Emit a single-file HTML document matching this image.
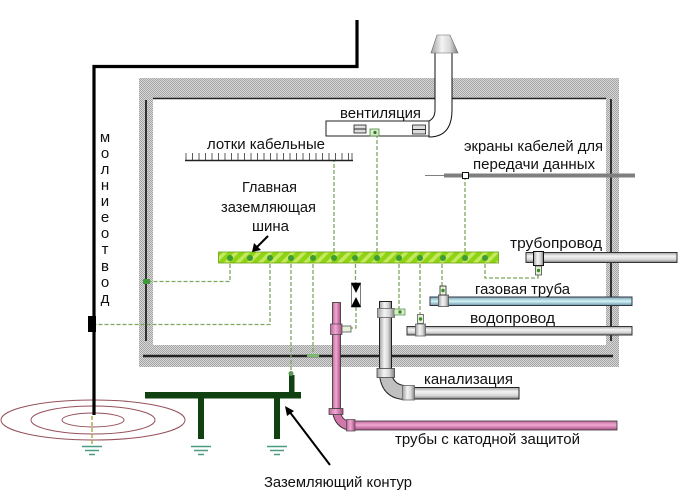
<!DOCTYPE html>
<html><head><meta charset="utf-8">
<style>
html,body{margin:0;padding:0;background:#fff}
svg{display:block}
text{font-family:"Liberation Sans",sans-serif;font-size:15px;fill:#111}
</style></head><body>
<svg xmlns="http://www.w3.org/2000/svg" width="700" height="503" viewBox="0 0 700 503">
<defs>
<pattern id="h" width="2" height="2" patternUnits="userSpaceOnUse"><rect width="2" height="2" fill="#d8d8d8"/><rect width="1" height="1" fill="#a4a4a4"/><rect x="1" y="1" width="1" height="1" fill="#a4a4a4"/></pattern>
<pattern id="g" width="8" height="8" patternUnits="userSpaceOnUse" patternTransform="rotate(45)"><rect width="8" height="8" fill="#8fd414"/><rect width="3.5" height="8" fill="#c4e860"/></pattern>
<linearGradient id="gr" x1="0" y1="0" x2="0" y2="1"><stop offset="0" stop-color="#a0a0a0"/><stop offset=".35" stop-color="#f4f4f4"/><stop offset=".7" stop-color="#d8d8d8"/><stop offset="1" stop-color="#808080"/></linearGradient>
<linearGradient id="grv" x1="0" y1="0" x2="1" y2="0"><stop offset="0" stop-color="#a0a0a0"/><stop offset=".4" stop-color="#f4f4f4"/><stop offset=".7" stop-color="#d8d8d8"/><stop offset="1" stop-color="#808080"/></linearGradient>
<linearGradient id="bl" x1="0" y1="0" x2="0" y2="1"><stop offset="0" stop-color="#7aa8b2"/><stop offset=".5" stop-color="#d2f2f8"/><stop offset="1" stop-color="#6d9aa5"/></linearGradient>
<linearGradient id="pk" x1="0" y1="0" x2="0" y2="1"><stop offset="0" stop-color="#c06a9c"/><stop offset=".45" stop-color="#f0a8d2"/><stop offset="1" stop-color="#a85085"/></linearGradient>
<linearGradient id="pkv" x1="0" y1="0" x2="1" y2="0"><stop offset="0" stop-color="#c06a9c"/><stop offset=".45" stop-color="#f0a8d2"/><stop offset="1" stop-color="#a85085"/></linearGradient>
</defs>

<!-- building walls -->
<g fill="#bebebe">
<rect x="139" y="78" width="480" height="21"/>
<rect x="139" y="345" width="480" height="22"/>
<rect x="139" y="78" width="14" height="289"/>
<rect x="606" y="78" width="13" height="289"/>
</g>
<g fill="url(#h)">
<rect x="139" y="78" width="480" height="21"/>
<rect x="139" y="345" width="480" height="22"/>
<rect x="139" y="78" width="14" height="289"/>
<rect x="606" y="78" width="13" height="289"/>
</g>
<path d="M153 98.500H606" stroke="#222" stroke-width="1.500"/>
<path d="M146 100V341M611 99V341" stroke="#222" stroke-width="1.800"/>
<path d="M143 356H613" stroke="#222" stroke-width="2.500"/>

<!-- ellipses -->
<g fill="none" stroke="#94505a" stroke-width="1">
<ellipse cx="93" cy="420" rx="92" ry="20"/><ellipse cx="93" cy="420" rx="62" ry="14"/><ellipse cx="93" cy="420" rx="31" ry="7"/>
</g>

<!-- lightning conductor -->
<path d="M357 20V66.500H94V415" fill="none" stroke="#000" stroke-width="3.200"/>
<rect x="88" y="316" width="8" height="16" fill="#000"/>

<!-- ground contour -->
<g fill="#0f4210">
<rect x="145" y="392" width="156" height="6.500"/>
<rect x="198" y="398" width="6" height="41"/>
<rect x="274" y="398" width="6" height="41"/>
<rect x="289" y="375" width="5.500" height="18"/>
</g>
<g stroke="#4f9a82" stroke-width="1.500">
<path d="M82 446.500h20M85 450.500h14M89 454.500h6"/>
<path d="M191 446.500h20M194 450.500h14M198 454.500h6"/>
<path d="M267 446.500h20M270 450.500h14M274 454.500h6"/>
</g>

<!-- dashed connectors -->
<g fill="none" stroke="#7da860" stroke-width="1.300" stroke-dasharray="4 2">
<path d="M230 258V281.500H147"/>
<path d="M270 258V324.500H96"/>
<path d="M291 258V375"/>
<path d="M313 258V355"/>
<path d="M355.500 258V283M356 307V328H346"/>
<path d="M399 258V312"/>
<path d="M420 258V319"/>
<path d="M442 258V288"/>
<path d="M485 258V278H538V272"/>
<path d="M334 252V161"/>
<path d="M377 252V135"/>
<path d="M465 252V179"/>
<path d="M92 416V445" stroke="#a8a030"/>
</g>
<path d="M143 281.500h7" stroke="#3f9a3a" stroke-width="5"/>
<path d="M307 355.500h12" stroke="#7ab870" stroke-width="3"/>
<circle cx="291" cy="373.500" r="2.500" fill="#5a9a50"/>

<!-- bus -->
<rect x="218.500" y="252" width="280" height="11" fill="url(#g)" stroke="#6aa012" stroke-width=".8"/>
<g fill="#3e9c32">
<circle cx="230" cy="258" r="3"/><circle cx="250" cy="258" r="3"/><circle cx="270" cy="258" r="3"/><circle cx="291" cy="258" r="3"/><circle cx="313" cy="258" r="3"/><circle cx="334" cy="258" r="3"/><circle cx="355" cy="258" r="3"/><circle cx="377" cy="258" r="3"/><circle cx="399" cy="258" r="3"/><circle cx="420" cy="258" r="3"/><circle cx="443" cy="258" r="3"/><circle cx="465" cy="258" r="3"/><circle cx="485" cy="258" r="3"/>
</g>

<!-- valve -->
<rect x="351.500" y="283" width="9" height="24" fill="#fff" stroke="#222" stroke-width=".6"/>
<path d="M351 283H361L356 293ZM351 307H361L356 297Z" fill="#000"/>

<!-- vent -->
<path d="M435 52H452V110Q452 137 429 137L429 121Q435 118 435 110Z" fill="#fff" stroke="#111" stroke-width="1"/>
<path d="M431 53H458L450 35H437Z" fill="url(#grv)" stroke="#666" stroke-width=".6"/>
<rect x="326" y="121" width="103" height="15" fill="#fff" stroke="#222" stroke-width="1"/>
<rect x="354" y="125" width="12" height="8" fill="#ddd" stroke="#222" stroke-width=".8"/>
<path d="M354 129h12" stroke="#222"/>
<rect x="412.500" y="125" width="13" height="9" fill="#ddd" stroke="#222" stroke-width=".8"/>
<path d="M412 129.500h13" stroke="#222"/>
<rect x="370" y="129" width="9" height="7" fill="#d8ecc8" stroke="#4a8a40" stroke-width=".8"/>
<circle cx="375" cy="132.500" r="1.600" fill="#2f7a2a"/>

<!-- cable tray -->
<path d="M185 160.500H353" stroke="#222" stroke-width="1.600"/>
<path d="M186 153V160M192.500 153V160M199 153V160M205.500 153V160M212 153V160M218.500 153V160M225 153V160M231.500 153V160M238 153V160M244.500 153V160M251 153V160M257.500 153V160M264 153V160M270.500 153V160M277 153V160M283.500 153V160M290 153V160M296.500 153V160M303 153V160M309.500 153V160M316 153V160M322.500 153V160M329 153V160M335.500 153V160M342 153V160M348.500 153V160M352 153V160" stroke="#333" stroke-width=".8"/>

<!-- data cable screens -->
<path d="M425 175.500H445" stroke="#555" stroke-width=".8"/>
<rect x="444" y="173.500" width="191" height="4" fill="#7f7f7f"/>
<rect x="462.500" y="172.500" width="6" height="6" fill="#fff" stroke="#111" stroke-width="1"/>

<!-- pipeline 1 -->
<rect x="526" y="252.500" width="151" height="10" fill="url(#gr)" stroke="#333" stroke-width="1"/>
<rect x="533.500" y="251.500" width="10" height="14" fill="url(#grv)" stroke="#111" stroke-width="1"/>
<rect x="535.500" y="266" width="6" height="9" fill="#e6f2d8" stroke="#333" stroke-width=".7"/>
<circle cx="538.500" cy="270.500" r="1.700" fill="#3a8a30"/>

<!-- gas -->
<rect x="430" y="297" width="202" height="8.500" fill="url(#bl)" stroke="#334" stroke-width="1"/>
<rect x="438.500" y="295" width="10" height="11.500" fill="url(#grv)" stroke="#555" stroke-width=".8"/>
<rect x="440" y="286" width="6" height="9" fill="#e6f2d8" stroke="#222" stroke-width=".8"/>
<circle cx="443" cy="290.500" r="1.700" fill="#3a8a30"/>

<!-- water -->
<rect x="407" y="326.500" width="225" height="8.500" fill="url(#gr)" stroke="#333" stroke-width="1"/>
<rect x="415.500" y="324" width="10" height="12" fill="url(#grv)" stroke="#666" stroke-width=".8"/>
<rect x="417.500" y="314.500" width="6" height="9" fill="#e6f2d8" stroke="#444" stroke-width=".7"/>
<circle cx="420.500" cy="319" r="1.700" fill="#3a8a30"/>

<!-- sewer -->
<path d="M379.500 375Q382 398 404 399.500L404 385.500Q393 384 391.500 373Z" fill="#c0c0c0" stroke="#222" stroke-width="1"/>
<rect x="379.500" y="301.500" width="12" height="68" fill="url(#grv)" stroke="#222" stroke-width="1"/>
<rect x="377.500" y="308.500" width="17" height="9" fill="url(#grv)" stroke="#666" stroke-width=".8"/>
<rect x="394" y="309" width="11" height="6" fill="#d8ecc8" stroke="#4a8a40" stroke-width=".7"/>
<circle cx="400" cy="312" r="1.700" fill="#3a8a30"/>
<rect x="377" y="368.500" width="17.500" height="9" fill="url(#grv)" stroke="#444" stroke-width=".8"/>
<rect x="414" y="387.500" width="105" height="11.500" fill="url(#gr)" stroke="#222" stroke-width="1"/>
<rect x="402.500" y="385.500" width="12" height="14.500" fill="url(#grv)" stroke="#666" stroke-width=".8"/>

<!-- pink -->
<path d="M332.500 412Q335 427 348 430L348 421Q341 419 340 410Z" fill="#d078aa" stroke="#222" stroke-width=".8"/>
<rect x="332.500" y="302.500" width="8" height="106" fill="url(#pkv)" stroke="#333" stroke-width=".8"/>
<rect x="330.500" y="324" width="11.500" height="10.500" fill="url(#pkv)" stroke="#444" stroke-width=".7"/>
<rect x="342" y="326" width="9" height="6" fill="#e6f2d8" stroke="#444" stroke-width=".7"/>
<rect x="329" y="408.500" width="14" height="6" fill="url(#pkv)" stroke="#333" stroke-width=".7"/>
<rect x="354" y="421" width="263" height="9" fill="url(#pk)" stroke="#333" stroke-width=".8"/>
<rect x="346.500" y="419.500" width="8.500" height="11.500" fill="url(#pkv)" stroke="#444" stroke-width=".7"/>

<!-- arrows -->
<path d="M268 236L256 248" stroke="#000" stroke-width="2"/>
<path d="M252 252L254 243L261 250Z" fill="#000"/>
<path d="M330 465L289 411" stroke="#000" stroke-width="2"/>
<path d="M285 406L294 411L287 416Z" fill="#000"/>

<!-- labels -->
<text x="340" y="118" textLength="81" lengthAdjust="spacingAndGlyphs">вентиляция</text>
<text x="207" y="149" textLength="118" lengthAdjust="spacingAndGlyphs">лотки кабельные</text>
<text x="242" y="192" textLength="55" lengthAdjust="spacingAndGlyphs">Главная</text>
<text x="221" y="212" textLength="95" lengthAdjust="spacingAndGlyphs">заземляющая</text>
<text x="252" y="231" textLength="37" lengthAdjust="spacingAndGlyphs">шина</text>
<text x="464" y="151" textLength="139" lengthAdjust="spacingAndGlyphs">экраны кабелей для</text>
<text x="473" y="169" textLength="122" lengthAdjust="spacingAndGlyphs">передачи данных</text>
<text x="510" y="248" textLength="92" lengthAdjust="spacingAndGlyphs">трубопровод</text>
<text x="475" y="294" textLength="95" lengthAdjust="spacingAndGlyphs">газовая труба</text>
<text x="470" y="323" textLength="85" lengthAdjust="spacingAndGlyphs">водопровод</text>
<text x="424" y="384" textLength="89" lengthAdjust="spacingAndGlyphs">канализация</text>
<text x="395" y="444" textLength="185" lengthAdjust="spacingAndGlyphs">трубы с катодной защитой</text>
<text x="264" y="487" textLength="148" lengthAdjust="spacingAndGlyphs">Заземляющий контур</text>
<g text-anchor="middle">
<text x="105" y="142">м</text><text x="105" y="158">о</text><text x="105" y="174">л</text><text x="105" y="190">н</text><text x="105" y="206">и</text><text x="105" y="222">е</text><text x="105" y="238">о</text><text x="105" y="254">т</text><text x="105" y="271">в</text><text x="105" y="287">о</text><text x="105" y="303">д</text>
</g>
</svg>
</body></html>
